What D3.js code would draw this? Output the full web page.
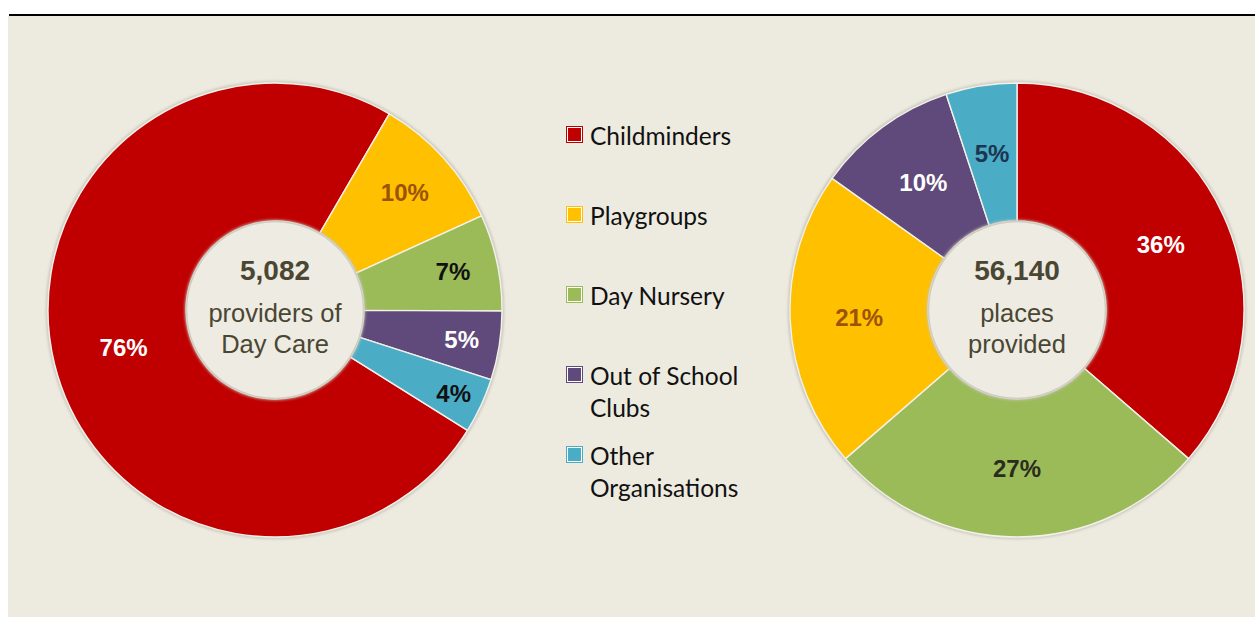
<!DOCTYPE html>
<html>
<head>
<meta charset="utf-8">
<script src="https://cdn.jsdelivr.net/npm/d3@7/dist/d3.min.js"></script>
<style>
  html, body { margin: 0; padding: 0; background: #ffffff; }
  svg { display: block; }
</style>
</head>
<body>
<svg id="chart" width="1255" height="617"></svg>
<script>
// Day care provision by provider type
const categories = ["Childminders", "Playgroups", "Day Nursery", "Out of School Clubs", "Other Organisations"];
const legendLines = [["Childminders"], ["Playgroups"], ["Day Nursery"], ["Out of School", "Clubs"], ["Other", "Organisations"]];
const providersPct = [76, 10, 7, 5, 4];      // share of providers
const placesPct = [36, 21, 27, 10, 5];       // share of places
const placesOrder = [0, 2, 1, 3, 4];         // clockwise order of the places ring
const providersTotal = "5,082";
const placesTotal = "56,140";
const providersCaption = ["providers of", "Day Care"];
const placesCaption = ["places", "provided"];

const colors = ["#C00000", "#FFC000", "#9BBB59", "#604A7B", "#4BACC6"];
const leftLabelColors = ["#ffffff", "#9C5209", "#111111", "#ffffff", "#111111"];
const rightLabelColors = ["#ffffff", "#9C5209", "#2b2b20", "#ffffff", "#1C3550"];

const svg = d3.select("#chart");
const W = 1255, H = 617;

// panel background and top rule
svg.append("rect").attr("x", 8).attr("y", 16).attr("width", W - 8).attr("height", H - 16).attr("fill", "#EDEADF");
svg.append("rect").attr("x", 9).attr("y", 14).attr("width", W - 9).attr("height", 2).attr("fill", "#000");

const defs = svg.append("defs");
const sh = defs.append("filter").attr("id", "soft").attr("x", "-10%").attr("y", "-10%").attr("width", "120%").attr("height", "120%");
sh.append("feGaussianBlur").attr("stdDeviation", 1.6);

const R = 227, r0 = 89;
const arc = d3.arc().innerRadius(r0).outerRadius(R);
const rad = d => d * Math.PI / 180;

function donut(cx, cy, values, order, startDeg, labelRadii, labelColors, total, caption) {
  const g = svg.append("g").attr("transform", `translate(${cx},${cy})`);
  const data = order.map(i => ({ idx: i, value: values[i] }));
  const pie = d3.pie().sort(null).value(d => d.value)
    .startAngle(rad(startDeg)).endAngle(rad(startDeg + 360));
  const arcs = pie(data);

  // soft halo around the ring
  g.append("circle").attr("r", R + 0.5).attr("fill", "none")
    .attr("stroke", "#b9b6aa").attr("stroke-width", 2.2).attr("filter", "url(#soft)");

  g.selectAll("path.slice").data(arcs).join("path")
    .attr("class", "slice")
    .attr("d", arc)
    .attr("fill", d => colors[d.data.idx])
    .attr("stroke", "#F3F1EA")
    .attr("stroke-width", 1.4)
    .attr("stroke-linejoin", "round");

  // inner hole with shaded rim
  g.append("circle").attr("r", r0 + 1).attr("fill", "#C9C6BA").attr("filter", "url(#soft)");
  g.append("circle").attr("r", r0 - 1.2).attr("fill", "#EDEBE2");

  g.selectAll("text.pct").data(arcs).join("text")
    .attr("class", "pct")
    .attr("transform", (d, i) => {
      const a = (d.startAngle + d.endAngle) / 2;
      const rr = labelRadii ? labelRadii[i] : (R + r0) / 2;
      return `translate(${rr * Math.sin(a)},${-rr * Math.cos(a)})`;
    })
    .attr("text-anchor", "middle")
    .attr("dominant-baseline", "central")
    .attr("font-family", "Liberation Sans, Arial, sans-serif")
    .attr("font-weight", "bold")
    .attr("font-size", 24)
    .attr("fill", d => labelColors[d.data.idx])
    .text(d => d.data.value + "%");

  g.append("text").attr("y", -40).attr("text-anchor", "middle").attr("dominant-baseline", "central")
    .attr("font-family", "Liberation Sans, Arial, sans-serif").attr("font-weight", "bold")
    .attr("font-size", 28).attr("fill", "#4A4632").text(total);
  caption.forEach((t, i) => {
    g.append("text").attr("y", 3 + i * 31).attr("text-anchor", "middle").attr("dominant-baseline", "central")
      .attr("font-family", "Liberation Sans, Arial, sans-serif")
      .attr("font-size", 25.5).attr("fill", "#4A4632").text(t);
  });
}

donut(275, 310, providersPct, [0, 1, 2, 3, 4], 122, [156, 175, 182, 189, 197], leftLabelColors, providersTotal, providersCaption);
donut(1017, 310, placesPct, placesOrder, 0, null, rightLabelColors, placesTotal, placesCaption);

// legend
const legendY = d3.scalePoint().domain(categories).range([135, 455]);
const lg = svg.append("g");
categories.forEach((c, i) => {
  const y = legendY(c);
  lg.append("rect").attr("x", 566.5).attr("y", y - 8.5).attr("width", 16).attr("height", 16)
    .attr("fill", "#ffffff").attr("stroke", colors[i]).attr("stroke-width", 1);
  lg.append("rect").attr("x", 568).attr("y", y - 7).attr("width", 13).attr("height", 13)
    .attr("fill", colors[i]);
  legendLines[i].forEach((t, k) => {
    lg.append("text").attr("x", 590).attr("y", y + k * 32)
      .attr("dominant-baseline", "central")
      .attr("font-family", "Lato, Open Sans, sans-serif")
      .attr("font-size", 24.5).attr("fill", "#111111").text(t);
  });
});
</script>
</body>
</html>
